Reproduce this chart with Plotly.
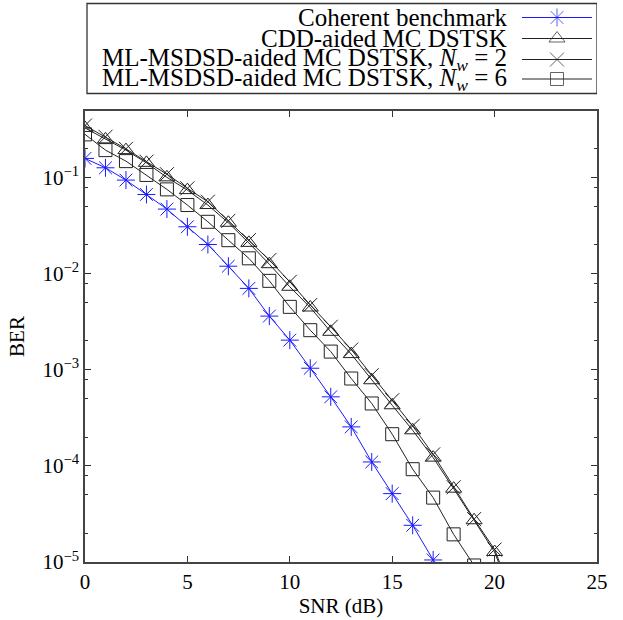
import plotly.graph_objects as go

# ---------------- data ----------------
snr_coherent = list(range(0, 18))
ber_coherent = [0.159, 0.127, 0.0946, 0.067, 0.0472, 0.0309, 0.0202, 0.0120, 0.00705,
                0.00363, 0.00204, 0.00104, 5.24e-4, 2.55e-4, 1.10e-4, 5.15e-5, 2.41e-5, 1.05e-5]

snr_cdd = list(range(0, 22))
ber_cdd = [0.33, 0.251, 0.194, 0.143, 0.101, 0.0744, 0.052, 0.034, 0.021, 0.0126, 0.00733,
           0.00446, 0.00249, 0.00146, 7.8e-4, 4.28e-4, 2.35e-4, 1.22e-4, 5.8e-5, 2.72e-5,
           1.27e-5, 3.5e-6]

snr_nw2 = list(range(0, 22))
ber_nw2 = [0.35, 0.267, 0.2, 0.147, 0.109, 0.0776, 0.0563, 0.0356, 0.0224, 0.0139, 0.00826,
           0.00474, 0.00281, 0.00163, 8.8e-4, 4.83e-4, 2.61e-4, 1.32e-4, 6.0e-5, 2.8e-5,
           1.35e-5, 3.8e-6]

snr_nw6 = list(range(0, 20))
ber_nw6 = [0.283, 0.194, 0.149, 0.107, 0.0757, 0.052, 0.0348, 0.0224, 0.0145, 0.00845,
           0.00453, 0.00259, 0.00155, 8.13e-4, 4.47e-4, 2.14e-4, 9.25e-5, 4.68e-5, 1.94e-5,
           9.2e-6]

series_names = [
    "Coherent benchmark",
    "CDD-aided MC DSTSK",
    "ML-MSDSD-aided MC DSTSK, <i>N</i><sub><i>w</i></sub> = 2",
    "ML-MSDSD-aided MC DSTSK, <i>N</i><sub><i>w</i></sub> = 6",
]

x_ticks = [0, 5, 10, 15, 20, 25]
y_ticks = [1e-5, 1e-4, 1e-3, 1e-2, 1e-1]
y_ticktext = ["10<sup>\u22125</sup>", "10<sup>\u22124</sup>", "10<sup>\u22123</sup>",
              "10<sup>\u22122</sup>", "10<sup>\u22121</sup>"]
y_minor = [m * 10.0 ** e for e in range(-5, 0) for m in (2, 5, 8)]

# ---------------- style ----------------
FONT = "Liberation Serif"
BLUE = "#1a1aff"
BLACK = "#222222"

styles = [
    dict(color=BLUE, symbol="asterisk-open", size=15),
    dict(color=BLACK, symbol="triangle-up-open", size=14),
    dict(color=BLACK, symbol="x-thin-open", size=14),
    dict(color=BLACK, symbol="square-open", size=13),
]

datasets = [(snr_coherent, ber_coherent), (snr_cdd, ber_cdd),
            (snr_nw2, ber_nw2), (snr_nw6, ber_nw6)]

fig = go.Figure()
for (xs, ys), st, name in zip(datasets, styles, series_names):
    fig.add_trace(go.Scatter(
        x=xs, y=ys, mode="lines+markers", name=name, showlegend=False,
        line=dict(color=st["color"], width=1),
        marker=dict(symbol=st["symbol"], size=st["size"], color=st["color"],
                    line=dict(color=st["color"], width=1)),
    ))

# --------- custom legend (symbol on the right, like the reference) ---------
W, H = 623, 620
ML, MR, MT, MB = 85, 26, 0, 58
plot_h = H - MT - MB
top_px = 111
leg_bottom_px = 96
row_px = [17.5, 38.5, 59.5, 79]

for st, ry in zip(styles, row_px):
    fig.add_trace(go.Scatter(
        x=[522, 557, 592], y=[ry, ry, ry], mode="lines+markers", showlegend=False,
        xaxis="x2", yaxis="y2", hoverinfo="skip",
        line=dict(color=st["color"], width=1),
        marker=dict(symbol=st["symbol"], size=[0, st["size"], 0], color=st["color"],
                    line=dict(color=st["color"], width=1)),
    ))

annotations = []
for name, ry in zip(series_names, row_px):
    annotations.append(dict(
        x=509, y=ry, xref="x2", yref="y2", text=name, showarrow=False,
        xanchor="right", yanchor="middle", font=dict(family=FONT, size=25, color="black"),
    ))

fig.update_layout(
    width=W, height=H,
    margin=dict(l=ML, r=MR, t=MT, b=MB, autoexpand=False),
    paper_bgcolor="white", plot_bgcolor="white",
    font=dict(family=FONT, size=21, color="black"),
    annotations=annotations,
    shapes=[dict(type="rect", xref="x2", yref="y2", x0=87, x1=597, y0=3.5, y1=93.5,
                 line=dict(color="#333333", width=1.3))],
    xaxis=dict(
        range=[0, 25], tickvals=x_ticks, ticks="inside", ticklen=6, tickwidth=1.2,
        tickcolor="#333333", showline=True, linecolor="#444444", linewidth=1.5,
        mirror="allticks", showgrid=False, zeroline=False, automargin=False,
        tickfont=dict(family=FONT, size=21),
        title=dict(text="SNR (dB)", font=dict(family=FONT, size=21), standoff=4),
        domain=[0, 1], anchor="y",
    ),
    yaxis=dict(
        type="log", range=[-5, -0.305], tickvals=y_ticks, ticktext=y_ticktext,
        ticks="inside", ticklen=6, tickwidth=1.2, tickcolor="#333333",
        minor=dict(tickvals=y_minor, ticks="inside", ticklen=3, tickwidth=1.2,
                   tickcolor="#333333", showgrid=False),
        showline=True, linecolor="#444444", linewidth=1.5, mirror="allticks",
        showgrid=False, zeroline=False, automargin=False,
        tickfont=dict(family=FONT, size=21),
        title=dict(text="BER", font=dict(family=FONT, size=21), standoff=12),
        domain=[0, (H - MB - top_px) / plot_h], anchor="x",
    ),
    xaxis2=dict(range=[ML, W - MR], domain=[0, 1], visible=False, fixedrange=True,
                anchor="y2"),
    yaxis2=dict(range=[leg_bottom_px, 0], domain=[(H - MB - leg_bottom_px) / plot_h, 1],
                visible=False, fixedrange=True, anchor="x2"),
)

fig.write_html("out.html", config={"displayModeBar": False},
               post_script="document.body.style.margin='0';document.body.style.overflow='hidden';")
